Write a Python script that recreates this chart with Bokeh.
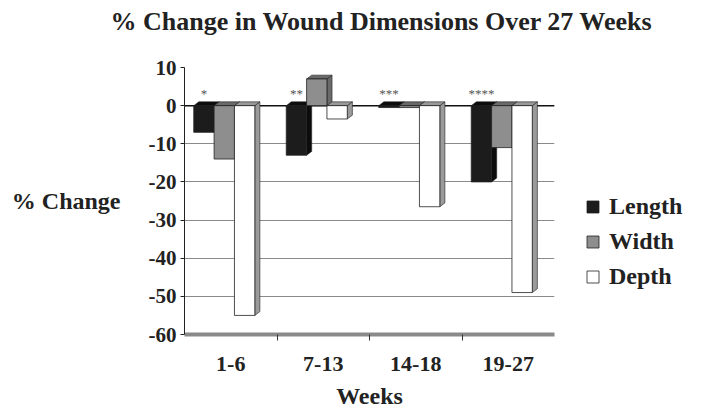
from bokeh.plotting import figure
from bokeh.models import Range1d, FixedTicker, Legend, LegendItem, ColumnDataSource, Span, Title
from bokeh.core.properties import value
from bokeh.embed import file_html
from bokeh.resources import INLINE

# ---- data ----
categories = ["1-6", "7-13", "14-18", "19-27"]
length = [-7, -13, -0.5, -20]
width = [-14, 7, -0.5, -11]
depth = [-55, -3.5, -26.5, -49]
significance = ["*", "**", "***", "****"]
series_names = ["Length", "Width", "Depth"]
y_ticks = [10, 0, -10, -20, -30, -40, -50, -60]

# ---- styles ----
FONT = "Liberation Serif"
TXT = "#222222"
front_colors = ["#1c1c1c", "#8e8e8e", "#ffffff"]
side_colors = ["#0c0c0c", "#6a6a6a", "#9a9a9a"]
offsets = [-0.29, -0.07, 0.15]
BAR_W = 0.22
DX = 0.055   # 3-D depth, category units
DY = 1.0     # 3-D depth, data units

p = figure(frame_width=370, frame_height=267,
           x_range=Range1d(0, 4), y_range=Range1d(-60, 10),
           output_backend="svg", toolbar_location=None,
           min_border_left=184, min_border_right=146,
           min_border_top=67, min_border_bottom=83,
           background_fill_color="white", border_fill_color="white")
p.outline_line_color = None

# grid
p.xgrid.visible = False
p.ygrid.grid_line_color = "#8a8a8a"
p.ygrid.grid_line_width = 1
p.ygrid.ticker = FixedTicker(ticks=y_ticks)

zero = Span(location=0, dimension="width", line_color="#111111", line_width=1.5, level="underlay")
p.add_layout(zero)

# y axis
p.yaxis.ticker = FixedTicker(ticks=y_ticks)
p.yaxis.major_label_overrides = {t: str(t) for t in y_ticks}
p.yaxis.major_label_text_font = FONT
p.yaxis.major_label_text_font_style = "bold"
p.yaxis.major_label_text_font_size = "21px"
p.yaxis.major_label_text_color = TXT
p.yaxis.axis_line_color = TXT
p.yaxis.major_tick_in = 0
p.yaxis.major_tick_out = 4
p.yaxis.major_tick_line_color = TXT
p.yaxis.minor_tick_line_color = None
p.yaxis.major_label_standoff = 4
p.yaxis.axis_label = "% Change"
p.yaxis.axis_label_orientation = "horizontal"
p.yaxis.axis_label_text_font = FONT
p.yaxis.axis_label_text_font_style = "bold"
p.yaxis.axis_label_text_font_size = "24px"
p.yaxis.axis_label_text_color = TXT
p.yaxis.axis_label_standoff = 25

# x axis
centers = [i + 0.5 for i in range(len(categories))]
p.xaxis.ticker = FixedTicker(ticks=centers, minor_ticks=[i for i in range(1, len(categories))])
p.xaxis.major_label_overrides = {c: lab for c, lab in zip(centers, categories)}
p.xaxis.major_tick_line_color = None
p.xaxis.minor_tick_in = 0
p.xaxis.minor_tick_out = 6
p.xaxis.minor_tick_line_color = "#333333"
p.xaxis.axis_line_color = "#8a8a8a"
p.xaxis.axis_line_width = 4
p.xaxis.major_label_text_font = FONT
p.xaxis.major_label_text_font_style = "bold"
p.xaxis.major_label_text_font_size = "22px"
p.xaxis.major_label_text_color = TXT
p.xaxis.major_label_standoff = 16
p.xaxis.axis_label = "Weeks"
p.xaxis.axis_label_text_font = FONT
p.xaxis.axis_label_text_font_style = "bold"
p.xaxis.axis_label_text_font_size = "24px"
p.xaxis.axis_label_text_color = TXT
p.xaxis.axis_label_standoff = 9

# spacer between title and plot area
p.add_layout(Title(text=" ", text_font_size="25px", standoff=0), "above")

# title
p.title.text = "% Change in Wound Dimensions Over 27 Weeks"
p.title.text_font = FONT
p.title.text_font_style = "bold"
p.title.text_font_size = "26px"
p.title.text_color = TXT
p.title.align = "left"
p.title.vertical_align = "top"
p.title.offset = -74
p.title.standoff = 0

# bars with 3-D side and top faces
legend_items = []
for s, (name, vals) in enumerate(zip(series_names, [length, width, depth])):
    xs_side, ys_side, xs_top, ys_top = [], [], [], []
    xc = [c + offsets[s] for c in centers]
    for x, v in zip(xc, vals):
        x0, x1 = x - BAR_W / 2, x + BAR_W / 2
        xs_side.append([x1, x1 + DX, x1 + DX, x1])
        ys_side.append([0, DY, v + DY, v])
        t = max(0, v)
        xs_top.append([x0, x1, x1 + DX, x0 + DX])
        ys_top.append([t, t, t + DY, t + DY])
    p.patches(xs_side, ys_side, fill_color=side_colors[s], line_color="#222222", line_width=0.6)
    p.patches(xs_top, ys_top, fill_color=side_colors[s], line_color="#222222", line_width=0.6)
    src = ColumnDataSource(dict(x=xc, top=vals))
    r = p.vbar(x="x", top="top", bottom=0, width=BAR_W, source=src,
               fill_color=front_colors[s], line_color="#222222", line_width=0.8)
    legend_items.append(LegendItem(label=name, renderers=[r]))

# significance marks above the Length bars
star_src = ColumnDataSource(dict(x=[c + offsets[0] for c in centers], y=[1.2] * len(centers), t=significance))
p.text(x="x", y="y", text="t", source=star_src, text_font=value(FONT),
       text_font_size="13px", text_color="#555555", text_align="center", text_baseline="bottom")

legend = Legend(items=legend_items, location=(31, 44), orientation="vertical",
                label_text_font=FONT, label_text_font_style="bold", label_text_font_size="24px",
                label_text_color=TXT, glyph_width=15, glyph_height=15, label_height=22,
                spacing=8, padding=0, margin=0, label_standoff=9,
                border_line_color=None, background_fill_alpha=0)
p.add_layout(legend, "right")

open("out.html", "w").write(file_html(p, INLINE))
